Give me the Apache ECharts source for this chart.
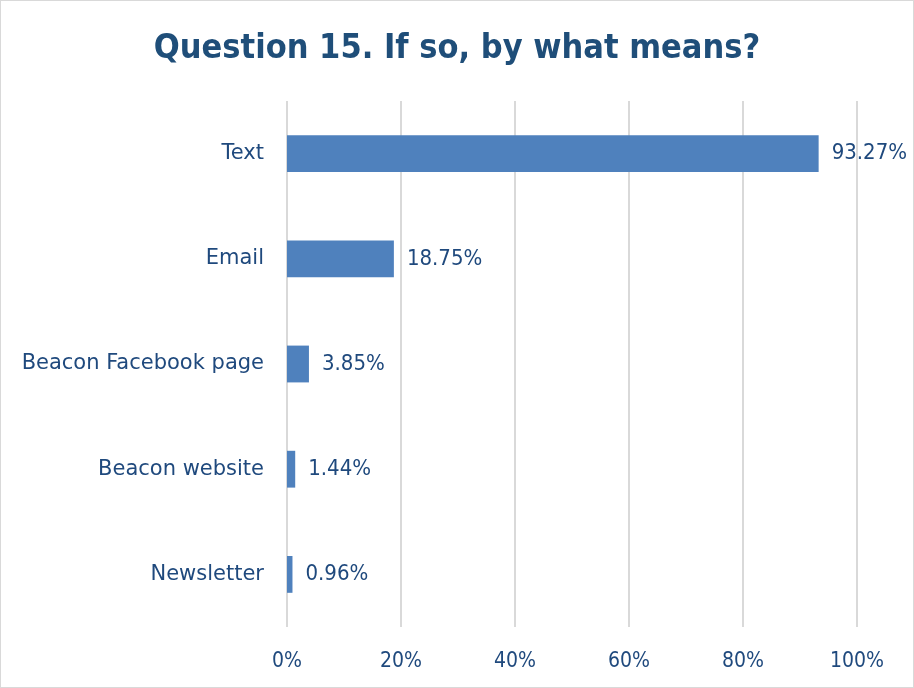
<!DOCTYPE html>
<html>
<head>
<meta charset="utf-8">
<script src="https://cdn.jsdelivr.net/npm/echarts@6/dist/echarts.min.js"></script>
<style>
  html, body { margin: 0; padding: 0; background: #fff; }
  #chart { width: 914px; height: 688px; box-sizing: border-box; border: 1px solid #D9D9D9; }
</style>
</head>
<body>
<div id="chart"></div>
<script>
// Response options, top to bottom
const categories = ['Text', 'Email', 'Beacon Facebook page', 'Beacon website', 'Newsletter'];
// Share of respondents (%)
const shares = [93.27, 18.75, 3.85, 1.44, 0.96];
// Horizontal axis ticks (%)
const ticks = [0, 20, 40, 60, 80, 100];

const FONT = '"DejaVu Sans Condensed", "DejaVu Sans", sans-serif';
const WIDE_FONT = '"DejaVu Sans", sans-serif';
const TEXT_COLOR = '#1F497D';

const chart = echarts.init(document.getElementById('chart'), null, { renderer: 'canvas' });
chart.setOption({
  animation: false,
  title: {
    text: 'Question 15. If so, by what means?',
    left: 'center',
    top: 26,
    textStyle: { fontFamily: FONT, fontSize: 34, fontWeight: 'bold', color: '#1F4E79' }
  },
  grid: { left: 286, right: 56, top: 100, bottom: 60, containLabel: false },
  xAxis: {
    type: 'value',
    min: ticks[0],
    max: ticks[ticks.length - 1],
    interval: 20,
    axisLine: { show: false },
    axisTick: { show: false },
    splitLine: { show: true, lineStyle: { color: '#D9D9D9', width: 2 } },
    axisLabel: {
      margin: 24,
      fontFamily: FONT, fontSize: 21, color: TEXT_COLOR,
      formatter: v => v + '%'
    }
  },
  yAxis: {
    type: 'category',
    data: categories,
    inverse: true,
    axisLine: { show: false },
    axisTick: { show: false },
    axisLabel: { margin: 23, fontFamily: WIDE_FONT, fontSize: 21, color: TEXT_COLOR }
  },
  series: [{
    type: 'bar',
    data: shares,
    barCategoryGap: '65%',
    itemStyle: { color: '#4F81BD' },
    label: {
      show: true,
      position: 'right',
      distance: 13,
      fontFamily: FONT, fontSize: 22, color: TEXT_COLOR,
      formatter: p => p.value.toFixed(2) + '%'
    }
  }]
});
</script>
</body>
</html>
